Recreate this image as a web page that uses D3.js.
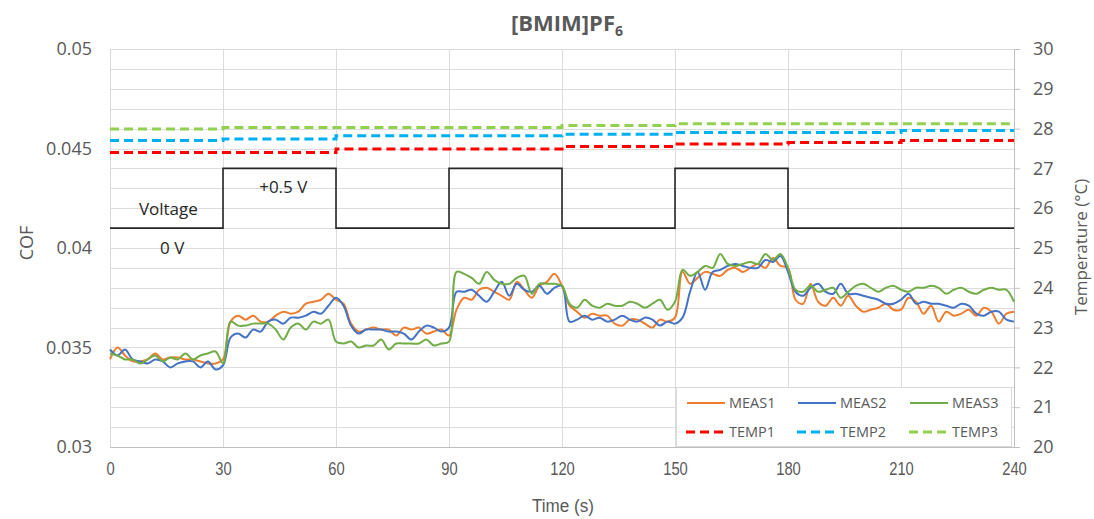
<!DOCTYPE html>
<html>
<head>
<meta charset="utf-8">
<script src="https://cdn.jsdelivr.net/npm/d3@7"></script>
<style>
  body { margin: 0; background: #fff; }
  text { font-family: "Open Sans", "Noto Sans", sans-serif; }
</style>
</head>
<body>
<svg id="chart" width="1094" height="519"></svg>
<script>
// sample times (s), one reading every 2 s
var timeSec = d3.range(0, 241, 2);

// COF readings, rows of 30 s
var meas1 = [
  0.0344, 0.0350, 0.0346, 0.0343, 0.0343, 0.0344, 0.0347, 0.0344, 0.0345, 0.0345, 0.0344, 0.0344, 0.0343, 0.0342, 0.0342,
  0.0344, 0.0363, 0.0366, 0.0364, 0.0366, 0.0363, 0.0363, 0.0366, 0.0368, 0.0367, 0.0368, 0.0372, 0.0373, 0.0374, 0.0377,
  0.0374, 0.0372, 0.0362, 0.0358, 0.0359, 0.0360, 0.0359, 0.0359, 0.0356, 0.0360, 0.0359, 0.0360, 0.0357, 0.0358, 0.0359,
  0.0356, 0.0369, 0.0375, 0.0374, 0.0379, 0.0380, 0.0378, 0.0376, 0.0374, 0.0383, 0.0379, 0.0375, 0.0381, 0.0383, 0.0387,
  0.0381, 0.0371, 0.0368, 0.0365, 0.0367, 0.0366, 0.0366, 0.0362, 0.0361, 0.0364, 0.0364, 0.0362, 0.0360, 0.0364, 0.0363,
  0.0365, 0.0388, 0.0382, 0.0385, 0.0388, 0.0387, 0.0386, 0.0389, 0.0390, 0.0388, 0.0390, 0.0392, 0.0390, 0.0395, 0.0391,
  0.0390, 0.0374, 0.0372, 0.0382, 0.0373, 0.0371, 0.0375, 0.0371, 0.0376, 0.0371, 0.0368, 0.0369, 0.0370, 0.0372, 0.0369,
  0.0369, 0.0375, 0.0373, 0.0367, 0.0371, 0.0363, 0.0368, 0.0366, 0.0367, 0.0369, 0.0366, 0.0370, 0.0368, 0.0362, 0.0367,
  0.0368
];
var meas2 = [
  0.0349, 0.0346, 0.0349, 0.0344, 0.0343, 0.0342, 0.0344, 0.0343, 0.0340, 0.0342, 0.0343, 0.0343, 0.0340, 0.0343, 0.0339,
  0.0341, 0.0355, 0.0357, 0.0355, 0.0359, 0.0358, 0.0363, 0.0364, 0.0362, 0.0365, 0.0365, 0.0366, 0.0368, 0.0367, 0.0371,
  0.0375, 0.0371, 0.0361, 0.0357, 0.0359, 0.0359, 0.0359, 0.0358, 0.0358, 0.0357, 0.0354, 0.0358, 0.0361, 0.0360, 0.0358,
  0.0360, 0.0378, 0.0378, 0.0379, 0.0376, 0.0373, 0.0378, 0.0383, 0.0376, 0.0382, 0.0379, 0.0378, 0.0381, 0.0377, 0.0380,
  0.0381, 0.0363, 0.0364, 0.0366, 0.0364, 0.0365, 0.0363, 0.0364, 0.0366, 0.0364, 0.0363, 0.0365, 0.0364, 0.0361, 0.0363,
  0.0362, 0.0365, 0.0378, 0.0388, 0.0379, 0.0388, 0.0389, 0.0391, 0.0392, 0.0391, 0.0390, 0.0390, 0.0394, 0.0393, 0.0396,
  0.0388, 0.0378, 0.0376, 0.0380, 0.0382, 0.0378, 0.0377, 0.0382, 0.0377, 0.0377, 0.0376, 0.0375, 0.0374, 0.0372, 0.0372,
  0.0374, 0.0377, 0.0372, 0.0373, 0.0372, 0.0372, 0.0371, 0.0370, 0.0372, 0.0371, 0.0367, 0.0366, 0.0368, 0.0368, 0.0364,
  0.0363
];
var meas3 = [
  0.0347, 0.0346, 0.0344, 0.0344, 0.0342, 0.0344, 0.0346, 0.0343, 0.0345, 0.0344, 0.0347, 0.0344, 0.0346, 0.0347, 0.0348,
  0.0342, 0.0363, 0.0361, 0.0361, 0.0362, 0.0362, 0.0362, 0.0359, 0.0354, 0.0360, 0.0362, 0.0359, 0.0363, 0.0362, 0.0364,
  0.0353, 0.0352, 0.0353, 0.0350, 0.0351, 0.0351, 0.0354, 0.0349, 0.0352, 0.0352, 0.0352, 0.0352, 0.0354, 0.0351, 0.0352,
  0.0353, 0.0388, 0.0387, 0.0385, 0.0382, 0.0388, 0.0384, 0.0382, 0.0382, 0.0385, 0.0386, 0.0377, 0.0382, 0.0382, 0.0382,
  0.0381, 0.0372, 0.0370, 0.0374, 0.0371, 0.0370, 0.0372, 0.0371, 0.0371, 0.0373, 0.0372, 0.0370, 0.0372, 0.0374, 0.0369,
  0.0373, 0.0389, 0.0386, 0.0388, 0.0391, 0.0390, 0.0397, 0.0392, 0.0391, 0.0392, 0.0393, 0.0392, 0.0397, 0.0394, 0.0397,
  0.0390, 0.0379, 0.0378, 0.0381, 0.0378, 0.0379, 0.0380, 0.0375, 0.0378, 0.0381, 0.0382, 0.0380, 0.0378, 0.0380, 0.0381,
  0.0379, 0.0378, 0.0380, 0.0380, 0.0381, 0.0380, 0.0377, 0.0379, 0.0380, 0.0378, 0.0377, 0.0379, 0.0380, 0.0379, 0.0379,
  0.0373
];

// temperatures (°C), held from each time until the next
var tempTime = [0, 30, 60, 90, 120, 150, 180, 210, 240];
var temp1 = [27.40, 27.40, 27.49, 27.49, 27.55, 27.61, 27.65, 27.70, 27.70];
var temp2 = [27.70, 27.74, 27.82, 27.82, 27.86, 27.90, 27.90, 27.95, 27.95];
var temp3 = [27.99, 28.03, 28.03, 28.03, 28.08, 28.12, 28.12, 28.12, 28.12];

// voltage square wave, drawn on the temperature axis (0 V / +0.5 V)
var voltTime = [0, 30, 60, 90, 120, 150, 180, 240];
var voltLevel = [25.5, 27, 25.5, 27, 25.5, 27, 25.5, 25.5];

var timeTicks = [0, 30, 60, 90, 120, 150, 180, 210, 240];
var cofTicks = [0.03, 0.035, 0.04, 0.045, 0.05];
var tempTicks = [20, 21, 22, 23, 24, 25, 26, 27, 28, 29, 30];

var measNames = ["MEAS1", "MEAS2", "MEAS3"];
var tempNames = ["TEMP1", "TEMP2", "TEMP3"];
var measColors = ["#ed7d31", "#4472c4", "#70ad47"];
var tempColors = ["#ff0000", "#00b0f0", "#92d050"];

var svg = d3.select("#chart");
var plotL = 110, plotR = 1014, plotT = 49, plotB = 447;
var grey = "#595959";

var x = d3.scaleLinear().domain([0, 240]).range([plotL, plotR]);
var yCof = d3.scaleLinear().domain([0.03, 0.05]).range([plotB, plotT]);
var yTemp = d3.scaleLinear().domain([20, 30]).range([plotB, plotT]);

// gridlines
var grid = svg.append("g").attr("stroke", "#dcdcdc").attr("stroke-width", 1);
yCof.ticks(20).forEach(function (v) {
  grid.append("line")
    .attr("x1", plotL).attr("x2", plotR)
    .attr("y1", Math.round(yCof(v)) + 0.5).attr("y2", Math.round(yCof(v)) + 0.5);
});
timeTicks.forEach(function (t) {
  grid.append("line")
    .attr("x1", Math.round(x(t)) + 0.5).attr("x2", Math.round(x(t)) + 0.5)
    .attr("y1", plotT).attr("y2", plotB);
});

// axes
var fmtCof = d3.format(".3~f");
var gLeft = svg.append("g").attr("transform", "translate(" + plotL + ",0)")
  .call(d3.axisLeft(yCof).tickValues(cofTicks).tickSize(0).tickPadding(18).tickFormat(fmtCof));
gLeft.select(".domain").attr("stroke", "#d9d9d9");

var gBottom = svg.append("g").attr("transform", "translate(0," + plotB + ")")
  .call(d3.axisBottom(x).tickValues(timeTicks).tickSize(0).tickPadding(15));
gBottom.select(".domain").attr("stroke", "#bfbfbf");
// the time labels are set in a narrow face
gBottom.selectAll("text")
  .style("font-family", "'Liberation Sans Narrow', 'Arial Narrow', 'Liberation Sans', sans-serif")
  .attr("transform", "scale(0.82,1)");

var gRight = svg.append("g").attr("transform", "translate(" + plotR + ",0)")
  .call(d3.axisRight(yTemp).tickValues(tempTicks).tickSize(6).tickPadding(13));
gRight.select(".domain").attr("stroke", "#bfbfbf");
gRight.selectAll(".tick line").attr("stroke", "#bfbfbf");

svg.selectAll(".tick text").attr("fill", grey).style("font-size", "18px");

// axis titles
svg.append("text")
  .attr("transform", "translate(27,243) rotate(-90)")
  .attr("text-anchor", "middle").attr("dy", "0.35em")
  .attr("fill", grey).style("font-size", "18px").text("COF");
svg.append("text")
  .attr("transform", "translate(1081,247) rotate(-90)")
  .attr("text-anchor", "middle").attr("dy", "0.35em")
  .attr("fill", grey).style("font-size", "17px").text("Temperature (°C)");
svg.append("text")
  .attr("transform", "translate(563,512) scale(0.9,1)")
  .attr("text-anchor", "middle")
  .attr("fill", grey).style("font-size", "19px")
  .style("font-family", "'Liberation Sans Narrow', 'Arial Narrow', 'Liberation Sans', sans-serif")
  .text("Time (s)");

// title
var title = svg.append("text")
  .attr("x", 567).attr("y", 31).attr("text-anchor", "middle")
  .attr("fill", grey).style("font-size", "22px").style("font-weight", "bold");
title.append("tspan").text("[BMIM]PF");
title.append("tspan").attr("dy", 5).style("font-size", "14px").text("6");

// voltage trace
var voltLine = d3.line()
  .x(function (d, i) { return x(voltTime[i]); })
  .y(function (d) { return yTemp(d); })
  .curve(d3.curveStepAfter);
svg.append("path").datum(voltLevel)
  .attr("d", voltLine).attr("fill", "none")
  .attr("stroke", "#262626").attr("stroke-width", 1.6);

svg.append("text").attr("x", x(15.5)).attr("y", 215).attr("text-anchor", "middle")
  .attr("fill", "#262626").style("font-size", "17px").text("Voltage");
svg.append("text").attr("x", x(46)).attr("y", 193).attr("text-anchor", "middle")
  .attr("fill", "#262626").style("font-size", "17px").text("+0.5 V");
svg.append("text").attr("x", x(16.5)).attr("y", 254).attr("text-anchor", "middle")
  .attr("fill", "#262626").style("font-size", "17px").text("0 V");

// temperature lines
var tempLine = d3.line()
  .x(function (d, i) { return x(tempTime[i]); })
  .y(function (d) { return yTemp(d); })
  .curve(d3.curveStepAfter);
[temp1, temp2, temp3].forEach(function (s, k) {
  svg.append("path").datum(s)
    .attr("d", tempLine).attr("fill", "none")
    .attr("stroke", tempColors[k]).attr("stroke-width", 3)
    .attr("stroke-dasharray", "9,5");
});

// COF lines
var measLine = d3.line()
  .x(function (d, i) { return x(timeSec[i]); })
  .y(function (d) { return yCof(d); })
  .curve(d3.curveCatmullRom.alpha(0.5));
[meas1, meas2, meas3].forEach(function (s, k) {
  svg.append("path").datum(s)
    .attr("d", measLine).attr("fill", "none")
    .attr("stroke", measColors[k]).attr("stroke-width", 2)
    .attr("stroke-linejoin", "round");
});

// legend
var legend = svg.append("g");
legend.append("rect")
  .attr("x", 676.5).attr("y", 387.5).attr("width", 335).attr("height", 59)
  .attr("fill", "#fff").attr("stroke", "#d9d9d9");
var colX = [687, 798, 910];
var rowY = [403, 432];
measNames.forEach(function (name, k) {
  legend.append("line").attr("x1", colX[k]).attr("x2", colX[k] + 38)
    .attr("y1", rowY[0]).attr("y2", rowY[0])
    .attr("stroke", measColors[k]).attr("stroke-width", 2);
  legend.append("text").attr("x", colX[k] + 42).attr("y", rowY[0]).attr("dy", "0.35em")
    .attr("fill", grey).style("font-size", "14.5px").text(name);
});
tempNames.forEach(function (name, k) {
  legend.append("line").attr("x1", colX[k] - 1).attr("x2", colX[k] + 38)
    .attr("y1", rowY[1]).attr("y2", rowY[1])
    .attr("stroke", tempColors[k]).attr("stroke-width", 3)
    .attr("stroke-dasharray", "9,5");
  legend.append("text").attr("x", colX[k] + 42).attr("y", rowY[1]).attr("dy", "0.35em")
    .attr("fill", grey).style("font-size", "14.5px").text(name);
});
</script>
</body>
</html>
